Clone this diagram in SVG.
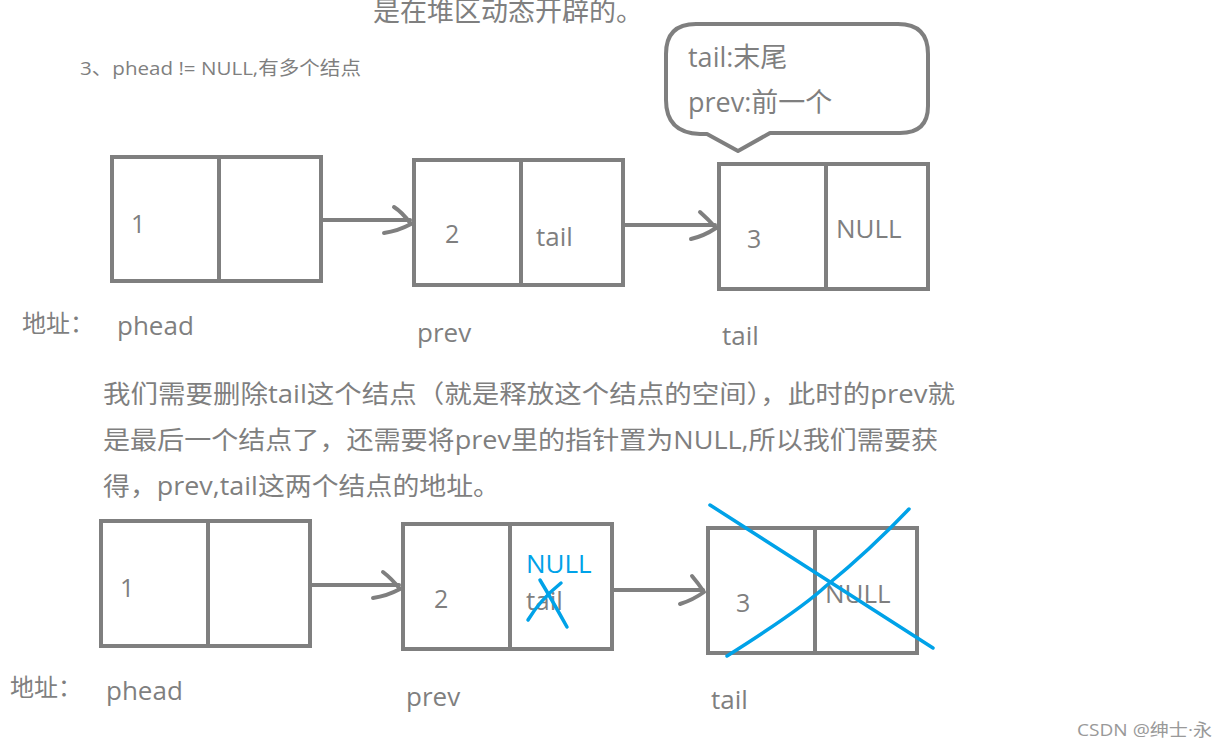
<svg xmlns="http://www.w3.org/2000/svg" width="1228" height="749" viewBox="0 0 1228 749">
<style>
text{font-family:"Open Sans","Noto Sans CJK SC",sans-serif;fill:#7f7f7f}
.box{fill:none;stroke:#7f7f7f;stroke-width:4}
.ln{fill:none;stroke:#7f7f7f;stroke-width:4;stroke-linecap:round;stroke-linejoin:round}
.blue{fill:none;stroke:#00a2e8;stroke-width:3.5;stroke-linecap:round;stroke-linejoin:round}
.num{font-size:25px}
.cell{font-size:26px}
.lbl{font-size:26px}
.bub{font-size:27px}
.para{font-size:25px}
</style>
<rect width="1228" height="749" fill="#fff"/>
<text x="373" y="21" style="font-size:27px">是在堆区动态开辟的。</text>
<text x="80" y="75" style="font-size:19px" textLength="281" lengthAdjust="spacingAndGlyphs">3、phead != NULL,有多个结点</text>

<g id="bubble">
<path class="ln" d="M696,24 H898 Q928,24 928,54 V106 Q928,133 900,133 H770 L738,151 L707,134 H700 Q666,133 666,100 V54 Q666,24 696,24 Z"/>
<text x="688" y="67" class="bub">tail:末尾</text>
<text x="688" y="112" class="bub">prev:前一个</text>
</g>

<g id="top-node1">
<rect class="box" x="112" y="157" width="209" height="124"/>
<line class="box" x1="219" y1="157" x2="219" y2="281"/>
<text x="131" y="233" class="num">1</text>
</g>
<g id="top-node2">
<rect class="box" x="414" y="160" width="209" height="125"/>
<line class="box" x1="521" y1="160" x2="521" y2="285"/>
<text x="445" y="243" class="num">2</text>
<text x="536" y="246" class="cell">tail</text>
</g>
<g id="top-node3">
<rect class="box" x="719" y="164" width="209" height="125"/>
<line class="box" x1="826" y1="164" x2="826" y2="289"/>
<text x="747" y="248" class="num">3</text>
<text x="836" y="238" class="cell">NULL</text>
</g>
<g id="top-labels">
<text x="22" y="332" style="font-size:24px">地址：</text>
<text x="117" y="335" class="lbl">phead</text>
<text x="417" y="342" class="lbl">prev</text>
<text x="722" y="345" class="lbl">tail</text>
</g>

<g id="connectors">
<path class="ln" d="M323,220 H410"/>
<path class="ln" d="M394,207 Q402,212 411,224 Q398,231 384,233"/>
<path class="ln" d="M625,225 H715"/>
<path class="ln" d="M700,212 Q708,219 716,228 Q704,236 691,239"/>
<path class="ln" d="M312,585 H399"/>
<path class="ln" d="M383,572 Q391,578 400,589 Q387,596 373,598"/>
<path class="ln" d="M613,590 H703"/>
<path class="ln" d="M692,576 Q698,583 704,592 Q693,600 680,604"/>
</g>

<g id="paragraph">
<text x="103" y="403" class="para" textLength="852" lengthAdjust="spacingAndGlyphs">我们需要删除tail这个结点（就是释放这个结点的空间），此时的prev就</text>
<text x="103" y="449" class="para" textLength="835" lengthAdjust="spacingAndGlyphs">是最后一个结点了，还需要将prev里的指针置为NULL,所以我们需要获</text>
<text x="103" y="495" class="para" textLength="397" lengthAdjust="spacingAndGlyphs">得，prev,tail这两个结点的地址。</text>
</g>

<g id="bottom-node1">
<rect class="box" x="101" y="521" width="209" height="125"/>
<line class="box" x1="208" y1="521" x2="208" y2="646"/>
<text x="120" y="597" class="num">1</text>
</g>
<g id="bottom-node2">
<rect class="box" x="403" y="524" width="209" height="125"/>
<line class="box" x1="510" y1="524" x2="510" y2="649"/>
<text x="434" y="608" class="num">2</text>
<text x="526" y="573" class="cell" style="fill:#00a2e8">NULL</text>
<text x="526" y="610" class="cell">tail</text>
<path class="blue" d="M528,620 Q540,600 561,583"/>
<path class="blue" d="M540,580 Q552,600 567,627"/>
</g>
<g id="bottom-node3">
<rect class="box" x="708" y="528" width="209" height="125"/>
<line class="box" x1="815" y1="528" x2="815" y2="653"/>
<text x="736" y="612" class="num">3</text>
<text x="825" y="603" class="cell">NULL</text>
<path class="blue" d="M710,505 Q820,575 933,648"/>
<path class="blue" d="M727,656 Q800,610 826,586 Q870,550 909,509"/>
</g>
<g id="bottom-labels">
<text x="10" y="696" style="font-size:24px">地址：</text>
<text x="106" y="700" class="lbl">phead</text>
<text x="406" y="706" class="lbl">prev</text>
<text x="711" y="709" class="lbl">tail</text>
</g>
<text x="1077" y="736" style="font-size:17px;fill:#999" textLength="135" lengthAdjust="spacingAndGlyphs">CSDN @绅士·永</text>
</svg>
